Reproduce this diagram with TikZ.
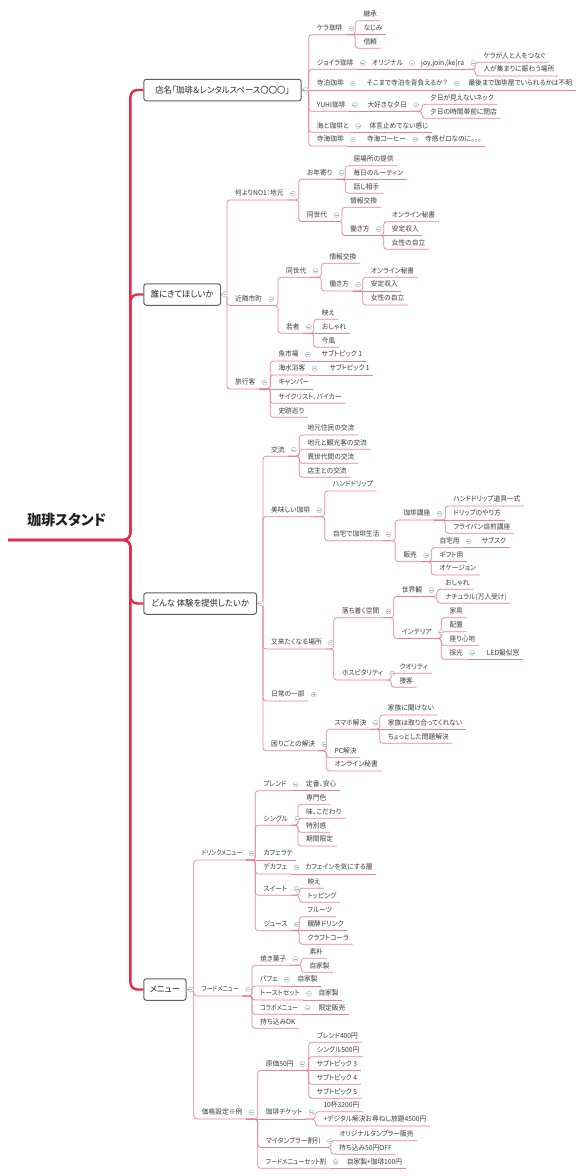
\documentclass[tikz,border=0pt]{standalone}
\usepackage{graphicx}
\usepackage{fontspec}
\setmainfont{Noto Sans CJK JP}[RawFeature=+palt, FakeStretch=0.96]
\definecolor{txt}{RGB}{60,60,60}
\definecolor{lnk}{RGB}{238,128,148}
\definecolor{redl}{RGB}{232,42,72}
\definecolor{boxb}{RGB}{95,95,105}
\definecolor{togc}{RGB}{165,178,205}
\newcommand\fsub{\fontsize{7}{8}\selectfont}
\newcommand\fmain{\fontsize{8.7}{10}\selectfont}
\tikzset{
  tn/.style={anchor=south west, inner xsep=3.5pt, inner ysep=2.8pt, text height=5.5pt, text depth=1.2pt, font=\fsub, text=txt},
  mbox/.style={anchor=west, draw=boxb, line width=1pt, rounded corners=2.5pt, fill=white, minimum height=21.5pt, inner xsep=3pt, font=\fmain, text=black!85},
  rootn/.style={anchor=south west, minimum width=117pt, inner xsep=0pt, inner ysep=12.5pt, text height=12pt, text depth=2pt, font=\fontsize{14.5}{16}\selectfont\bfseries, text=black!88},
  conn/.style={draw=lnk, line width=0.7pt, rounded corners=3pt},
  mainl/.style={draw=redl, line width=2.4pt, rounded corners=7pt},
  tog/.style={circle, draw=togc, line width=0.45pt, fill=white, minimum size=5pt, inner sep=0pt,
    path picture={\draw[togc, line width=0.45pt] ([xshift=-1.4pt]path picture bounding box.center) -- ([xshift=1.4pt]path picture bounding box.center);}},
  togp/.style={circle, draw=togc, line width=0.45pt, fill=white, minimum size=5pt, inner sep=0pt,
    path picture={\draw[togc, line width=0.45pt] ([xshift=-1.4pt]path picture bounding box.center) -- ([xshift=1.4pt]path picture bounding box.center) ([yshift=-1.4pt]path picture bounding box.center) -- ([yshift=1.4pt]path picture bounding box.center);}},
}
\newcommand\Nd[4]{\node[tn] (#1) at ({#2-8},#3) {\kern4.5pt #4};}
\newcommand\Ndx[5]{\node[tn] (#1) at ({#2-8},#3) {\kern4.5pt\scalebox{#5}[1]{#4}};}
\newcommand\Cn[2]{\draw[conn] (#1.south east) -- (#1.south east -| #2.south west) -- (#2.south west) -- (#2.south east);}
\newcommand\CS[2]{\draw[conn] (#1.south east) -- (#2.south east);}
\newcommand\CB[2]{\draw[conn] (#1.east) -- (#1.east -| #2.south west) -- (#2.south west) -- (#2.south east);}
\newcommand\CBS[2]{\draw[conn] (#1.east) -- (#2.south east);}
\newcommand\Tg[1]{\node[tog] at ([xshift=5.5pt]#1.east) {};}
\newcommand\TgB[1]{\node[tog] at ([xshift=4pt]#1.east) {};}
\begin{document}
\begin{tikzpicture}[x=1pt,y=-1pt]
\fill[white] (0,0) rectangle (585,1176);
\useasboundingbox (0,0) rectangle (585,1176);
% root and main boxes
\node[rootn] (root) at (8,540) {珈琲スタンド};
\node[mbox, minimum width=157.4pt] (B1) at (143.3,90) {店名「珈琲＆レンタルスペース〇〇〇」};
\node[mbox, minimum width=76.7pt] (B2) at (143.3,294.5) {誰にきてほしいか};
\node[mbox, minimum width=112.7pt] (B3) at (143.3,603.5) {どんな 体験を提供したいか};
\node[mbox, minimum width=42.4pt] (B4) at (143.3,989.5) {メニュー};
% B1
\Nd{a1}{316.7}{34.7}{ケラ珈琲}
\Nd{a11}{363.3}{20.7}{継承}
\Nd{a12}{363.3}{34.7}{なじみ}
\Nd{a13}{363.3}{48.3}{信頼}
\Nd{a2}{316.7}{69.3}{ジョイラ珈琲}
\Nd{a21}{371.7}{69.3}{オリジナル}
\Nd{a211}{421}{69.3}{joy,join,(ke)ra}
\Nd{a2111}{483.3}{62.3}{ケラが人と人をつなぐ}
\Nd{a2112}{483.3}{76}{人が集まりに賑わう場所}
\Nd{a3}{316.7}{90}{寺泊珈琲}
\Nd{a31}{366.7}{90}{そこまで寺泊を背負えるか？}
\Nd{a311}{468.3}{90}{最後まで珈琲屋でいられるかは不明}
\Nd{a4}{316.7}{111.3}{YUHI珈琲}
\Nd{a41}{367.3}{111.3}{大好きな夕日}
\Nd{a411}{430}{104.3}{夕日が見えないネック}
\Nd{a412}{430}{118.3}{夕日の時間帯前に閉店}
\Nd{a5}{316.7}{132.3}{海と珈琲と}
\Nd{a51}{369.3}{132.3}{体言止めでない感じ}
\Nd{a6}{316.7}{146}{寺海珈琲}
\Nd{a61}{366.7}{146}{寺海コーヒー}
\Nd{a611}{425}{146}{寺感ゼロなのに。。。}
% B2
\Nd{b1}{235}{200}{何よりNO1：地元}
\Nd{b11}{306.7}{179.3}{お年寄り}
\Nd{b111}{353.3}{165.7}{居場所の提供}
\Nd{b112}{353.3}{179.3}{毎日のルーティン}
\Nd{b113}{353.3}{193.3}{話し相手}
\Nd{b12}{306.7}{221.5}{同世代}
\Nd{b121}{350}{207.3}{情報交換}
\Nd{b122}{350}{235.5}{働き方}
\Nd{b1221}{391.7}{221.7}{オンライン秘書}
\Nd{b1222}{391.7}{235.5}{安定収入}
\Nd{b1223}{391.7}{249.3}{女性の自立}
\Nd{b2}{235}{305.5}{近隣市町}
\Nd{b21}{286}{277.3}{同世代}
\Nd{b211}{329.3}{263.3}{情報交換}
\Nd{b212}{329.3}{291}{働き方}
\Nd{b2121}{370.7}{277.3}{オンライン秘書}
\Nd{b2122}{370.7}{291}{安定収入}
\Nd{b2123}{370.7}{305}{女性の自立}
\Nd{b22}{286}{333.3}{若者}
\Nd{b221}{321.7}{319.3}{映え}
\Nd{b222}{321.7}{333.3}{おしゃれ}
\Nd{b223}{321.7}{347.3}{今風}
\Nd{b3}{235}{389}{旅行客}
\Nd{b31}{278.3}{361}{魚市場}
\Nd{b311}{321.7}{361}{サブトピック 1}
\Nd{b32}{278.3}{375}{海水浴客}
\Nd{b321}{329.3}{375}{サブトピック 1}
\Nd{b33}{278.3}{389}{キャンパー}
\Nd{b34}{278.3}{403.3}{サイクリスト、バイカー}
\Nd{b35}{278.3}{417.3}{史跡巡り}
% B3
\Nd{c1}{271}{456.2}{交流}
\Nd{c11}{307.3}{435}{地元住民の交流}
\Nd{c12}{307.3}{449.3}{地元と観光客の交流}
\Nd{c13}{307.3}{463.3}{異世代間の交流}
\Nd{c14}{307.3}{477.3}{店主との交流}
\Nd{c2}{271}{516.7}{美味しい珈琲}
\Nd{c21}{332.7}{491}{ハンドドリップ}
\Nd{c22}{332.7}{540.7}{自宅で珈琲生活}
\Nd{c221}{403.3}{520}{珈琲講座}
\Nd{c2211}{453.3}{506}{ハンドドリップ道具一式}
\Nd{c2212}{453.3}{520}{ドリップのやり方}
\Nd{c2213}{453.3}{533.3}{フライパン焙煎講座}
\Nd{c222}{403.3}{561.7}{販売}
\Nd{c2221}{439.3}{547.7}{自宅用}
\Nd{c22211}{481.7}{547.7}{サブスク}
\Nd{c2222}{439.3}{561.7}{ギフト用}
\Nd{c2223}{439.3}{575}{オケージョン}
\Nd{c3}{271}{649}{又来たくなる場所}
\Nd{c31}{341.7}{617.7}{落ち着く空間}
\Nd{c311}{401.7}{596.5}{世界観}
\Nd{c3111}{445}{589.3}{おしゃれ}
\Nd{c3112}{445}{603.3}{ナチュラル(万人受け)}
\Nd{c312}{401.7}{638.5}{インテリア}
\Nd{c3121}{449.3}{617.7}{家具}
\Nd{c3122}{449.3}{631.7}{配置}
\Nd{c3123}{449.3}{645.7}{座り心地}
\Nd{c3124}{449.3}{659.3}{採光}
\Nd{c31241}{486.7}{659.3}{LED擬似窓}
\Nd{c32}{341.7}{680}{ホスピタリティ}
\Nd{c321}{399.3}{673.3}{クオリティ}
\Nd{c322}{399.3}{687.3}{接客}
\Nd{c4}{271}{701}{日常の一部}
\Nd{c5}{271}{750.7}{困りごとの解決}
\Nd{c51}{334.3}{729.3}{スマホ解決}
\Nd{c511}{387.7}{715}{家族に聞けない}
\Nd{c512}{387.7}{729.3}{家族は取り合ってくれない}
\Nd{c513}{387.7}{743.3}{ちょっとした問題解決}
\Nd{c52}{334.3}{757.7}{PC解決}
\Nd{c53}{334.3}{771}{オンライン秘書}
% B4
\Ndx{d1}{201.7}{860}{ドリンクメニュー}{0.86}
\Nd{d11}{263.3}{790.7}{ブレンド}
\Nd{d111}{306}{790.7}{定番、安心}
\Nd{d12}{263.3}{825.2}{シングル}
\Nd{d121}{306}{804.3}{専門色}
\Nd{d122}{306}{818.3}{味、こだわり}
\Nd{d123}{306}{832.3}{特別感}
\Nd{d124}{306}{846}{期間限定}
\Nd{d13}{263.3}{860}{カフェラテ}
\Nd{d14}{263.3}{874}{デカフェ}
\Nd{d141}{305}{874}{カフェインを気にする層}
\Nd{d15}{263.3}{895.3}{スイート}
\Nd{d151}{307.3}{888.3}{映え}
\Nd{d152}{307.3}{902.3}{トッピング}
\Nd{d16}{263.3}{930.7}{ジュース}
\Nd{d161}{307.3}{916.7}{フルーツ}
\Nd{d162}{307.3}{930.7}{醗酵ドリンク}
\Nd{d163}{307.3}{944.3}{クラフトコーラ}
\Ndx{d2}{201.7}{996}{フードメニュー}{0.88}
\Nd{d21}{260}{965.3}{焼き菓子}
\Nd{d211}{309.3}{958.3}{素朴}
\Nd{d212}{309.3}{972.3}{自家製}
\Nd{d22}{260}{986}{パフェ}
\Nd{d221}{297.3}{986}{自家製}
\Nd{d23}{260}{1000}{トーストセット}
\Nd{d231}{318.3}{1000}{自家製}
\Ndx{d24}{260}{1014.3}{コラボメニュー}{0.88}
\Nd{d241}{318.3}{1014.3}{限定販売}
\Nd{d25}{260}{1028.3}{持ち込みOK}
\Nd{d3}{201.7}{1119}{価格設定※例}
\Nd{d31}{265.7}{1070.5}{原価50円}
\Nd{d311}{316.7}{1042.3}{ブレンド400円}
\Nd{d312}{316.7}{1056.7}{シングル500円}
\Nd{d313}{316.7}{1070.5}{サブトピック 3}
\Nd{d314}{316.7}{1084.3}{サブトピック 4}
\Nd{d315}{316.7}{1098.3}{サブトピック 5}
\Nd{d32}{265.7}{1119}{珈琲チケット}
\Nd{d321}{323.3}{1111.7}{10杯3200円}
\Nd{d322}{323.3}{1126}{+デジタル解決お尋ねし放題4500円}
\Nd{d33}{265.7}{1147.5}{マイタンブラー割引}
\Nd{d331}{339}{1140.7}{オリジナルタンブラー販売}
\Nd{d332}{339}{1154.3}{持ち込み50円OFF}
\Ndx{d34}{265.7}{1168.3}{フードメニューセット割}{0.92}
\Nd{d341}{346.7}{1168.3}{自家製+珈琲100円}
% main red connectors
\coordinate (rs) at ([xshift=5pt]root.south east);
\foreach \b in {B1,B2,B3,B4} \draw[mainl] (root.south west) -- (rs) -- (rs |- \b.west) -- (\b.west);
% B1 connectors
\CB{B1}{a1} \CB{B1}{a2} \CBS{B1}{a3} \CB{B1}{a4} \CB{B1}{a5} \CB{B1}{a6}
\Cn{a1}{a11} \CS{a1}{a12} \Cn{a1}{a13}
\CS{a2}{a21} \CS{a21}{a211} \Cn{a211}{a2111} \Cn{a211}{a2112}
\CS{a3}{a31} \CS{a31}{a311}
\CS{a4}{a41} \Cn{a41}{a411} \Cn{a41}{a412}
\CS{a5}{a51}
\CS{a6}{a61} \CS{a61}{a611}
% B2 connectors
\CB{B2}{b1} \CB{B2}{b2} \CB{B2}{b3}
\Cn{b1}{b11} \Cn{b1}{b12}
\Cn{b11}{b111} \CS{b11}{b112} \Cn{b11}{b113}
\Cn{b12}{b121} \Cn{b12}{b122}
\Cn{b122}{b1221} \CS{b122}{b1222} \Cn{b122}{b1223}
\Cn{b2}{b21} \Cn{b2}{b22}
\Cn{b21}{b211} \Cn{b21}{b212}
\Cn{b212}{b2121} \CS{b212}{b2122} \Cn{b212}{b2123}
\Cn{b22}{b221} \CS{b22}{b222} \Cn{b22}{b223}
\Cn{b3}{b31} \Cn{b3}{b32} \CS{b3}{b33} \Cn{b3}{b34} \Cn{b3}{b35}
\CS{b31}{b311} \CS{b32}{b321}
% B3 connectors
\CB{B3}{c1} \CB{B3}{c2} \CB{B3}{c3} \CB{B3}{c4} \CB{B3}{c5}
\Cn{c1}{c11} \Cn{c1}{c12} \Cn{c1}{c13} \Cn{c1}{c14}
\Cn{c2}{c21} \Cn{c2}{c22}
\Cn{c22}{c221} \Cn{c22}{c222}
\Cn{c221}{c2211} \CS{c221}{c2212} \Cn{c221}{c2213}
\Cn{c222}{c2221} \CS{c222}{c2222} \Cn{c222}{c2223}
\CS{c2221}{c22211}
\Cn{c3}{c31} \Cn{c3}{c32}
\Cn{c31}{c311} \Cn{c31}{c312}
\Cn{c311}{c3111} \Cn{c311}{c3112}
\Cn{c312}{c3121} \Cn{c312}{c3122} \Cn{c312}{c3123} \Cn{c312}{c3124}
\CS{c3124}{c31241}
\Cn{c32}{c321} \Cn{c32}{c322}
\Cn{c5}{c51} \Cn{c5}{c52} \Cn{c5}{c53}
\Cn{c51}{c511} \CS{c51}{c512} \Cn{c51}{c513}
% B4 connectors
\CB{B4}{d1} \CB{B4}{d2} \CB{B4}{d3}
\Cn{d1}{d11} \Cn{d1}{d12} \CS{d1}{d13} \Cn{d1}{d14} \Cn{d1}{d15} \Cn{d1}{d16}
\CS{d11}{d111}
\Cn{d12}{d121} \Cn{d12}{d122} \Cn{d12}{d123} \Cn{d12}{d124}
\CS{d14}{d141}
\Cn{d15}{d151} \Cn{d15}{d152}
\Cn{d16}{d161} \CS{d16}{d162} \Cn{d16}{d163}
\Cn{d2}{d21} \Cn{d2}{d22} \Cn{d2}{d23} \Cn{d2}{d24} \Cn{d2}{d25}
\Cn{d21}{d211} \Cn{d21}{d212}
\CS{d22}{d221} \CS{d23}{d231} \CS{d24}{d241}
\Cn{d3}{d31} \CS{d3}{d32} \Cn{d3}{d33} \Cn{d3}{d34}
\Cn{d31}{d311} \Cn{d31}{d312} \CS{d31}{d313} \Cn{d31}{d314} \Cn{d31}{d315}
\Cn{d32}{d321} \Cn{d32}{d322}
\Cn{d33}{d331} \Cn{d33}{d332}
\CS{d34}{d341}
% toggles
\TgB{B1} \TgB{B2} \TgB{B3} \TgB{B4}
\foreach \t in {a1,a2,a21,a211,a3,a31,a4,a41,a5,a6,a61,
  b1,b11,b12,b122,b2,b21,b212,b22,b3,b31,b32,
  c1,c2,c22,c221,c222,c2221,c3,c31,c311,c312,c3124,c32,c5,c51,
  d1,d11,d12,d14,d15,d16,d2,d21,d22,d23,d24,d3,d31,d32,d33,d34} {\Tg{\t}}
\node[togp] at ([xshift=5.5pt]c4.east) {};
\end{tikzpicture}
\end{document}
